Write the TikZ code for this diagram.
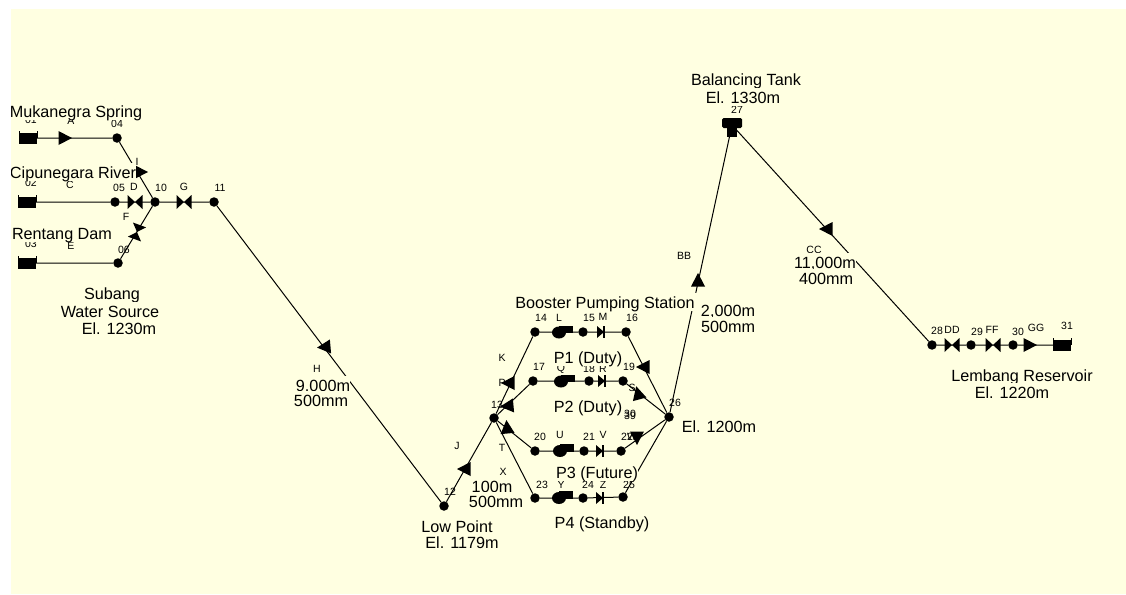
\documentclass[tikz,border=0pt]{standalone}
\usepackage{fontspec}
\setmainfont{Liberation Sans}
\definecolor{paper}{HTML}{FFFFE1}
\tikzset{
  x=1pt,y=-1pt,
  pipe/.style={draw=black,line width=1pt},
  junction/.style={circle,fill=black,inner sep=0pt,minimum size=9.5pt},
  small/.style={font=\fontsize{10.5}{10.5}\selectfont,inner sep=0pt},
  big/.style={font=\fontsize{16.2}{16.2}\selectfont,inner sep=0pt,fill=paper,text height=15.5pt,text depth=3pt,anchor=base},
  tri/.pic={\fill (-6.5,-7) -- (7,0) -- (-6.5,7) -- cycle;},
  bowtie/.pic={\fill (-7.5,-7) -- (0,0) -- (-7.5,7) -- cycle (7.5,-7) -- (0,0) -- (7.5,7) -- cycle;},
  checkv/.pic={\fill (-4,-6) -- (3,0) -- (-4,6) -- cycle; \fill (2,-6) rectangle (4,6);},
  pumpsym/.pic={\fill (0,0) ellipse (7 and 6); \fill (0,-7) rectangle (13.5,0.5);},
  tanksym/.pic={\fill (-9,-5) rectangle (9,6); \draw[line width=0.9pt] (-9,-7) -- (-9,0) (9,-7) -- (9,0);},
  headtank/.pic={\fill[rounded corners=1.5pt] (-10,-7) rectangle (10,3); \fill (-5,0) rectangle (5,12);},
}
\begin{document}
\begin{tikzpicture}
\useasboundingbox (0,0) rectangle (1126,594);
\fill[white] (0,0) rectangle (1126,594);
\fill[paper] (11,9) rectangle (1126,594);
\clip (11,9) rectangle (1126,594);
% tanks
\coordinate (n01) at (28,138);
\coordinate (n02) at (27,202);
\coordinate (n03) at (27,263);
\coordinate (n27) at (732,125);
\coordinate (n31) at (1062,345);
% junctions
\foreach \n/\x/\y in {04/117/138,05/115/202,06/118/263,10/155/202,11/214/202,12/444/506,13/494/418,14/535/332,15/583/332,16/626/332,17/533/381,18/589/381,19/623/381,20/535/451,21/584/451,22/621/451,23/535/498,24/583/498,25/623/497,26/669/417,28/932/345,29/971/345,30/1013/345}
  \node[junction] (n\n) at (\x,\y) {};
% pipes
\draw[pipe] (n01)--(n04) (n04)--(n10) (n02)--(n05) (n05)--(n10) (n03)--(n06) (n06)--(n10)
  (n10)--(n11) (n11)--(n12) (n12)--(n13) (n13)--(n14) (n13)--(n17) (n13)--(n20) (n13)--(n23)
  (n14)--(n15) (n15)--(n16) (n17)--(n18) (n18)--(n19) (n20)--(n21) (n21)--(n22) (n23)--(n24) (n24)--(n25)
  (n16)--(n26) (n19)--(n26) (n22)--(n26) (n25)--(n26) (n26)--(n27) (n27)--(n28)
  (n28)--(n29) (n29)--(n30) (n30)--(n31);
% tanks drawn over pipes
\pic at (n01) {tanksym};
\pic at (n02) {tanksym};
\pic at (n03) {tanksym};
\pic at (n31) {tanksym};
\pic at (n27) {headtank};
% pipe markers
\foreach \x/\y/\r in {65/138/0,141/172/0,324/347/185,464/469/180,508/383/180,507/406/185,507/427/95,643/367/180,638/393/105,637/438/270,698/280/90,826/229/180,1030/345/0}
  \pic[rotate=\r] at (\x,\y) {tri};
\foreach \x/\y/\r in {135/202/0,137/232/70,184/202/0,952/345/0,993/345/0}
  \pic[rotate=\r] at (\x,\y) {bowtie};
\foreach \x/\y in {601/332,602/381,600/451,600/498}
  \pic at (\x,\y) {checkv};
\foreach \x/\y in {559/332.5,561/381.5,560/451,559/498}
  \pic at (\x,\y) {pumpsym};
% small labels
\foreach \t/\x/\y [count=\i] in {01/31/120,A/71/121,04/117/124,I/137/162,02/31/183,C/70/185,05/119/188,D/134/187,10/161/188,G/184/187,11/220/188,F/126/217,03/31/244,E/71/246,06/124/250,H/317/369,14/541/318,L/559/318,15/589/318,M/603/317,16/632/318,K/502/358,17/539/367,19/629/367,Q/561/369,18/589/369,R/603/369,P/502/383,13/497/405,S/632/388,30/630/414,39/630/416,20/540/437,U/560/435,21/589/437,V/603/435,22/627/437,W/632/437,T/502/448,J/457/446,X/503/472,23/542/485,Y/561/485,24/588/485,Z/603/485,25/629/485,12/450/492,26/675/403,27/737/110,BB/684/256,CC/814/250,28/937/331,DD/952/330,29/977/332,FF/992/330,30/1018/332,GG/1036/328,31/1067/326}
  \node[small] (lab\i) at (\x,\y) {\t};
% large labels, upper line first so that the lower line overpaints it
\node[big] (mu) at (76,117) {Mukanegra Spring};
\node[big] (ci) at (73,178) {Cipunegara River};
\node[big] (re) at (62,239) {Rentang Dam};
\node[big] (su) at (112,299) {Subang};
\node[big] (wa) at (110,317) {Water Source};
\node[big] (ea) at (119,334) {El. 1230m};
\node[big] (h1) at (323,391) {9,000m};
\node[big] (h2) at (321,406) {500mm};
\node[big,inner xsep=2.5pt] (bo) at (605,308) {Booster Pumping Station};
\node[big] (p1) at (588,363) {P1 (Duty)};
\node[big] (p2) at (588,412) {P2 (Duty)};
\node[big] (p3) at (597,478) {P3 (Future)};
\node[big] (p4) at (602,528) {P4 (Standby)};
\node[big] (x1) at (492,492) {100m};
\node[big] (x2) at (496,507) {500mm};
\node[big] (lo) at (457,532) {Low Point};
\node[big] (eb) at (462,548) {El. 1179m};
\node[big] (ec) at (719,432) {El. 1200m};
\node[big] (b1) at (728,316) {2,000m};
\node[big] (b2) at (728,332) {500mm};
\node[big] (ba) at (746,85) {Balancing Tank};
\node[big] (ed) at (743,103) {El. 1330m};
\node[big] (c1) at (825,268) {11,000m};
\node[big] (c2) at (826,284) {400mm};
\node[big] (le) at (1022,381) {Lembang Reservoir};
\node[big] (ee) at (1012,398) {El. 1220m};
\end{tikzpicture}
\end{document}
